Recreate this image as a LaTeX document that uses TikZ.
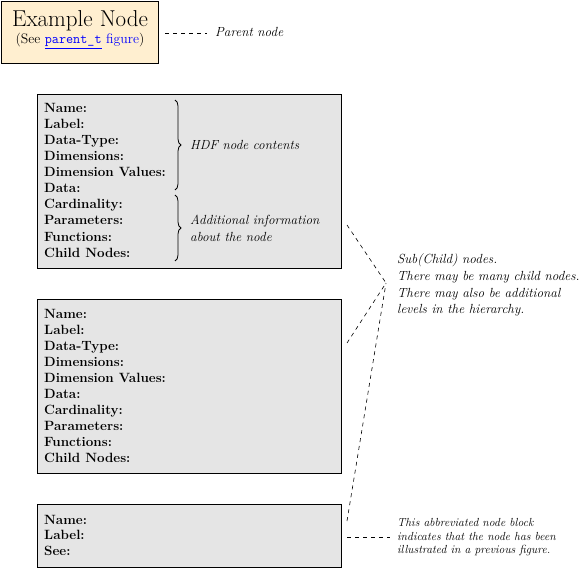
\documentclass[tikz,border=0pt]{standalone}
\usetikzlibrary{decorations.pathreplacing}
\definecolor{parentfill}{HTML}{FFEFD0}
\definecolor{boxfill}{HTML}{E5E5E5}
\definecolor{linkblue}{HTML}{0000FF}
\tikzset{
 parentbox/.style={draw, line width=1.4pt, fill=parentfill, anchor=north west, minimum width=157pt, minimum height=62pt, inner sep=0},
 nodebox/.style={draw, line width=0.8pt, fill=boxfill, anchor=north west, minimum width=304pt, inner sep=0},
 field/.style={anchor=base west, inner sep=0, font=\fontsize{13.4}{16}\selectfont\bfseries},
 note/.style={anchor=base west, inner sep=0, font=\fontsize{13.2}{16}\selectfont\itshape},
 smallnote/.style={anchor=base west, inner sep=0, font=\fontsize{11.7}{13.5}\selectfont\itshape},
 leader/.style={dash pattern=on 4pt off 4pt, line width=0.6pt},
 bracket/.style={decorate, decoration={brace, amplitude=6pt}, line width=0.8pt},
}
\begin{document}
\begin{tikzpicture}[x=1pt,y=-1pt]
\useasboundingbox (0,0) rectangle (580,569);
% parent node
\node[parentbox] (parent) at (1,1) {};
\node[inner sep=0, font=\fontsize{23}{26}\selectfont] (ptitle) at (80,21) {Example Node};
\node[inner sep=0, font=\fontsize{13.8}{16}\selectfont] (psee) at (80,41) {(See \textcolor{linkblue}{\underline{\texttt{parent\_t}} figure})};
\node[note] (parentnote) at (215,37) {Parent node};
\coordinate (pl1) at (165,33);
\coordinate (pl2) at (207,33);
\draw[leader] (pl1) -- (pl2);
% boxes
\node[nodebox, minimum height=174pt] (box1) at (37,94) {};
\node[nodebox, minimum height=174pt] (box2) at (37,299) {};
\node[nodebox, minimum height=63pt] (box3) at (37,504) {};
\foreach \t [count=\i] in {Name:,Label:,Data-Type:,Dimensions:,Dimension Values:,Data:,Cardinality:,Parameters:,Functions:,Child Nodes:}{
  \node[field] (a\i) at (44,{113+16*(\i-1)}) {\t};
  \node[field] (b\i) at (44,{318+16*(\i-1)}) {\t};
}
\foreach \t [count=\i] in {Name:,Label:,See:}{
  \node[field] (c\i) at (44,{524+15.6*(\i-1)}) {\t};
}
% braces
\coordinate (br1a) at (175,100);
\coordinate (br1b) at (175,190);
\coordinate (br2a) at (175,195);
\coordinate (br2b) at (175,261);
\draw[bracket] (br1a) -- (br1b);
\draw[bracket] (br2a) -- (br2b);
\node[note] (hdf) at (190,150) {HDF node contents};
\node[note] (add1) at (190,225) {Additional information};
\node[note] (add2) at (190,241) {about the node};
% child notes
\node[note] (s1) at (397,263) {Sub(Child) nodes.};
\node[note] (s2) at (397,280) {There may be many child nodes.};
\node[note] (s3) at (397,297) {There may also be additional};
\node[note] (s4) at (397,313) {levels in the hierarchy.};
\coordinate (conv) at (386,283);
\coordinate (l1) at (347,225);
\coordinate (l2) at (347,343);
\coordinate (l3) at (347,521);
\draw[leader] (l1) -- (conv);
\draw[leader] (l2) -- (conv);
\draw[leader] (l3) -- (conv);
% abbreviated note
\node[smallnote] (ab1) at (397,526) {This abbreviated node block};
\node[smallnote] (ab2) at (397,540) {indicates that the node has been};
\node[smallnote] (ab3) at (397,553) {illustrated in a previous figure.};
\coordinate (bl1) at (347,537);
\coordinate (bl2) at (390,537);
\draw[leader] (bl1) -- (bl2);
\end{tikzpicture}
\end{document}
